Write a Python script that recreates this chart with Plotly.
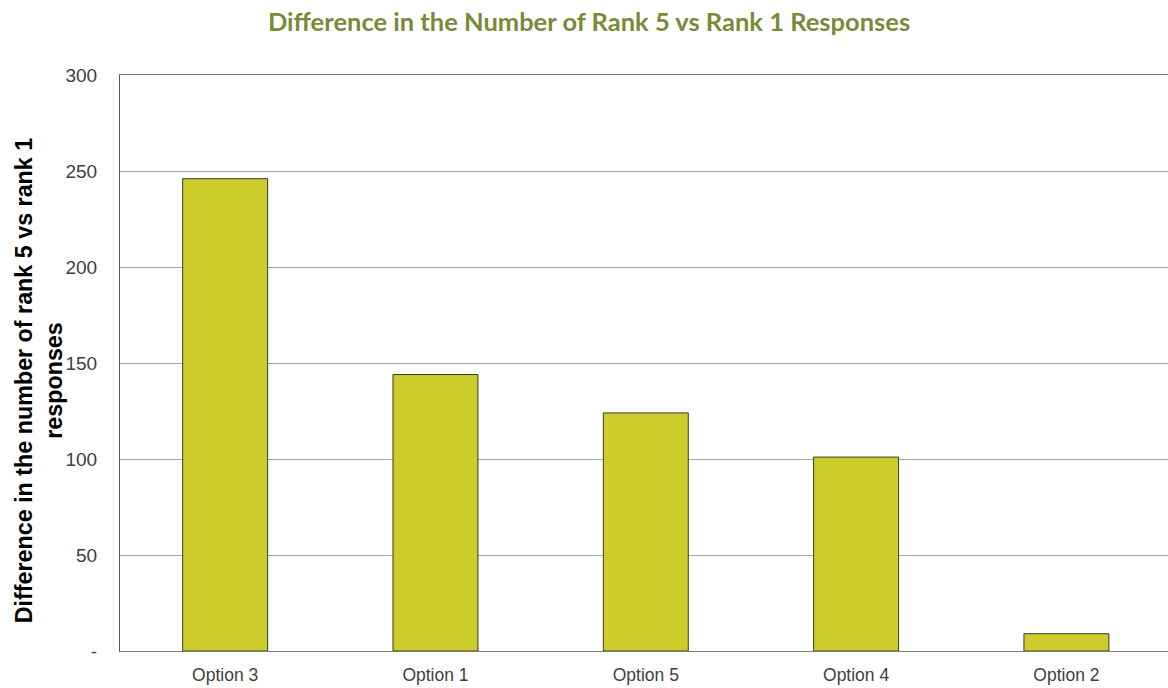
import plotly.graph_objects as go

categories = ["Option 3", "Option 1", "Option 5", "Option 4", "Option 2"]
values = [246, 144, 124, 101, 9]
tick_vals = [0, 50, 100, 150, 200, 250, 300]
tick_text = ["-", "50", "100", "150", "200", "250", "300"]
y_title = "Difference in the number of rank 5 vs rank 1<br>responses"

fig = go.Figure()
fig.add_trace(go.Bar(
    x=categories, y=values,
    marker=dict(color="#CCCC2B", line=dict(color="#3a3a2a", width=1)),
    width=0.404,
))

W, H = 1168, 688
L, R, T, B = 120, 0, 75, 37
PW = W - L - R

fig.update_layout(
    width=W, height=H,
    margin=dict(l=L, r=R, t=T, b=B),
    paper_bgcolor="white", plot_bgcolor="white",
    showlegend=False,
    title=dict(
        text="<b>Difference in the Number of Rank 5 vs Rank 1 Responses</b>",
        font=dict(family="Lato, Open Sans, sans-serif", size=25.5, color="#7A8A38"),
        x=(589 - L) / PW, xref="paper", xanchor="center",
        y=1 - 22 / H, yanchor="middle",
    ),
    xaxis=dict(
        range=[-0.5, 4.483],
        showline=True, linecolor="#7f7f7f", linewidth=1, mirror=True,
        ticks="", showgrid=False, ticklabelstandoff=8,
        tickfont=dict(family="Liberation Sans, Arial, sans-serif", size=17.5, color="#404040"),
    ),
    yaxis=dict(
        range=[0, 300], tickvals=tick_vals, ticktext=tick_text,
        showgrid=True, gridcolor="#a6a6a6", gridwidth=1,
        showline=True, linecolor="#595959", linewidth=1,
        ticks="", ticklabelstandoff=18, zeroline=False,
        tickfont=dict(family="Liberation Sans, Arial, sans-serif", size=19, color="#404040"),
    ),
)

fig.add_annotation(
    text="<b>" + y_title + "</b>",
    textangle=-90,
    xref="paper", x=(39 - L) / PW, xanchor="center",
    yref="y", y=141, yanchor="middle",
    showarrow=False,
    font=dict(family="Liberation Sans, Arial, sans-serif", size=23.3, color="black"),
)

fig.write_html(
    "out.html",
    config={"displayModeBar": False},
    post_script="document.body.style.margin='0';document.documentElement.style.overflow='hidden';",
)
